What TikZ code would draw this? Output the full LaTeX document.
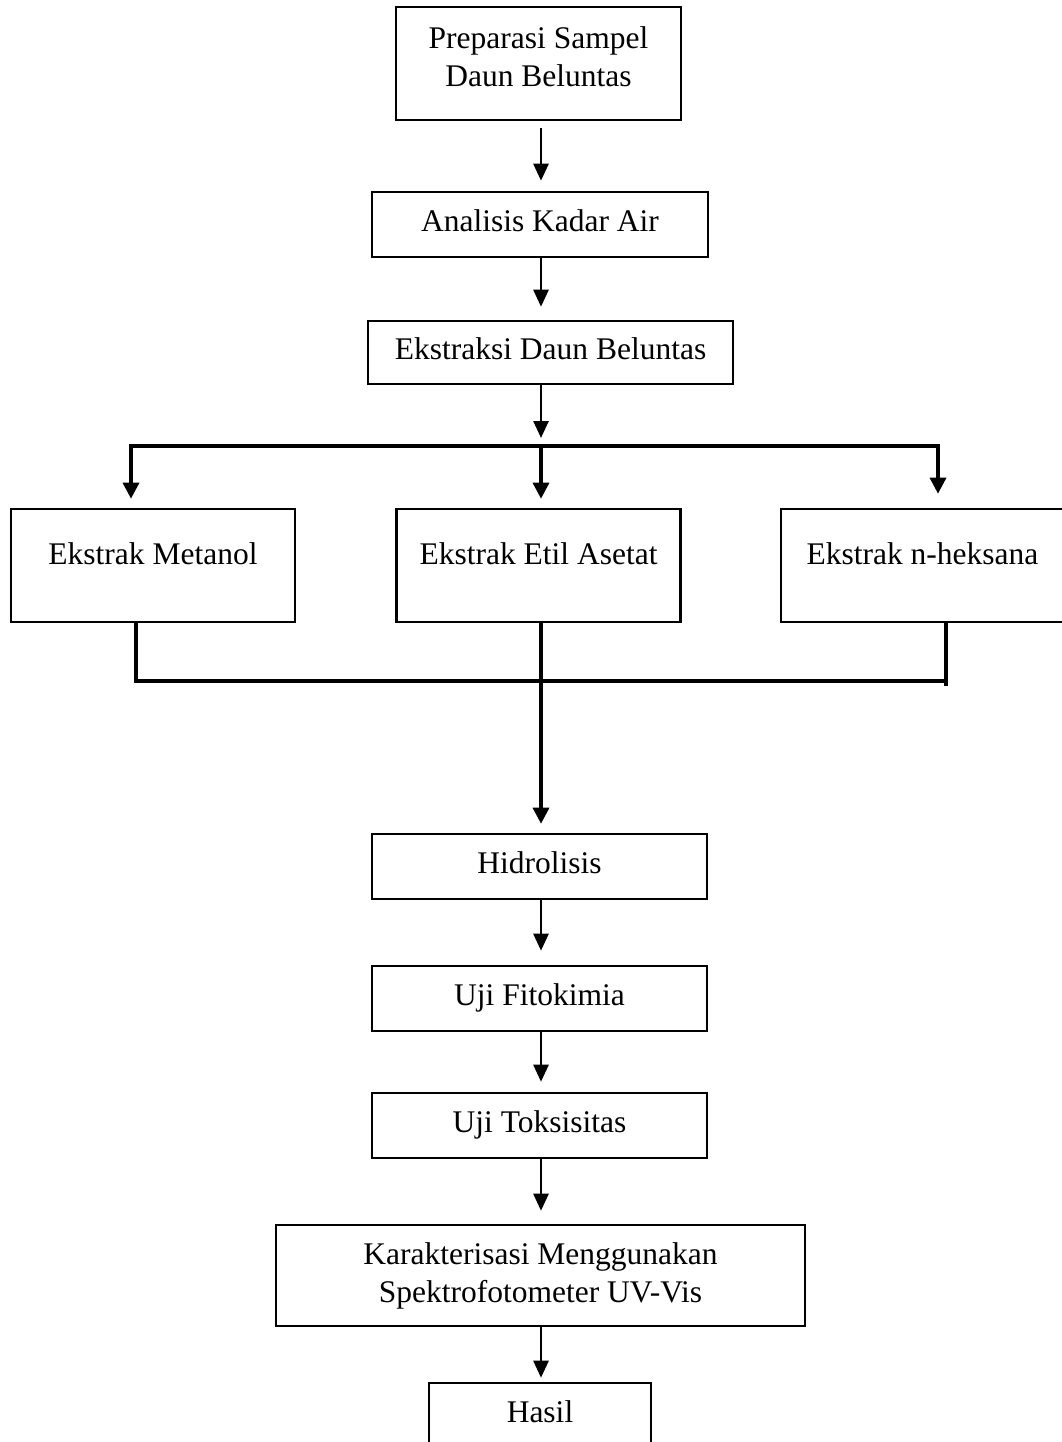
\documentclass[tikz,border=0pt]{standalone}
\usepackage{fontspec}
\setmainfont{Liberation Serif}
\usetikzlibrary{arrows.meta}
\begin{document}
\begin{tikzpicture}[x=1pt,y=-1pt,
  box/.style={draw, line width=2.6pt, inner sep=0pt, align=center,
    font=\fontsize{31.5}{38}\selectfont},
  sbox/.style={box, text height=22pt, text depth=8pt},
  ebox/.style={box, text height=22pt, text depth=24pt,
    minimum width=284pt, minimum height=113pt},
  arr/.style={line width=2.6pt, -{Triangle[width=15pt,length=17pt]}},
  bl/.style={line width=3.3pt, line join=miter},
  arrB/.style={bl, -{Triangle[width=16pt,length=16pt]}},
]
\useasboundingbox (0,0) rectangle (1062,1442);
\fill[white] (0,0) rectangle (1062,1442);

% nodes
\node[box, minimum width=285pt, minimum height=113pt] (prep) at (538.5,63.5)
  {Preparasi Sampel\\Daun Beluntas\rule[-14pt]{0pt}{0pt}};
\node[sbox, minimum width=336pt, minimum height=65pt] (anal) at (540,224.5) {Analisis Kadar Air};
\node[sbox, minimum width=365pt, minimum height=63pt] (ekst) at (550.5,352.5) {Ekstraksi Daun Beluntas};
\node[ebox] (met) at (153,565.5) {Ekstrak Metanol};
\node[ebox] (etil) at (538.5,565.5) {Ekstrak Etil Asetat};
\node[ebox, minimum width=283pt] (hek) at (922.5,565.5) {Ekstrak n-heksana};
\node[sbox, minimum width=335pt, minimum height=65pt] (hidr) at (539.5,866.5) {Hidrolisis};
\node[sbox, minimum width=335pt, minimum height=65pt] (fito) at (539.5,998.5) {Uji Fitokimia};
\node[sbox, minimum width=335pt, minimum height=65pt] (toks) at (539.5,1125.5) {Uji Toksisitas};
\node[box, minimum width=529pt, minimum height=101pt] (kar) at (540.5,1275.5)
  {Karakterisasi Menggunakan\\Spektrofotometer UV-Vis};
\node[box, text height=22pt, text depth=10pt, minimum width=222pt, minimum height=66pt] (hasil) at (540,1416) {Hasil};

% helper coordinates
\coordinate (ax) at (541,0);
\coordinate (br) at (541,446);
\coordinate (brL) at (131,446);
\coordinate (brR) at (938,446);
\coordinate (cl) at (136,681);
\coordinate (cm) at (541,681);
\coordinate (cr) at (946,681);
\coordinate (crx) at (946,686);

% main chain
\draw[arr, shorten <=7pt, shorten >=10pt] (prep.south -| ax) -- (anal.north -| ax);
\draw[arr, shorten >=13pt] (anal.south -| ax) -- (ekst.north -| ax);
\draw[arr, shorten >=8pt] (ekst.south -| ax) -- (br);

% branching
\draw[arrB, shorten >=9pt] (br) -- (brL) -- (met.north -| brL);
\draw[arrB, shorten >=14pt] (br) -- (brR) -- (hek.north -| brR);
\draw[arrB, shorten >=9pt] (br) -- (etil.north -| ax);

% collecting
\draw[bl] (met.south -| cl) -- (cl) -- (cr);
\draw[bl] (hek.south -| cr) -- (crx);
\draw[bl] (etil.south -| ax) -- (cm);
\draw[arrB, shorten >=9pt] (cm) -- (hidr.north -| ax);

% lower chain
\draw[arr, shorten >=14pt] (hidr.south -| ax) -- (fito.north -| ax);
\draw[arr, shorten >=10pt] (fito.south -| ax) -- (toks.north -| ax);
\draw[arr, shorten >=13pt] (toks.south -| ax) -- (kar.north -| ax);
\draw[arr, shorten >=4pt] (kar.south -| ax) -- (hasil.north -| ax);
\end{tikzpicture}
\end{document}
